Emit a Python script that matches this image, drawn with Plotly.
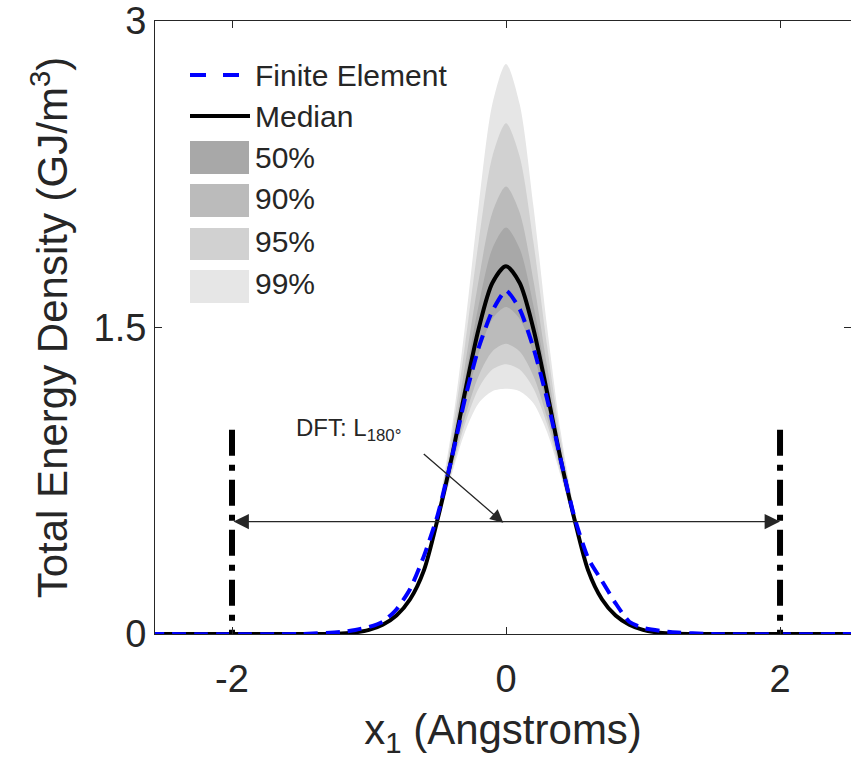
import plotly.graph_objects as go

# ---------------- data ----------------
median_x = [-2.6, -1.4, -1.2, -1.1, -1.0, -0.9, -0.8, -0.7, -0.6, -0.5, -0.4, -0.3, -0.2, -0.1, 0.0,
            0.1, 0.2, 0.3, 0.4, 0.5, 0.6, 0.7, 0.8, 0.9, 1.0, 1.1, 1.2, 1.4, 2.6]
median_y = [0.0, 0.0, 0.003, 0.008, 0.02, 0.045, 0.09, 0.17, 0.31, 0.56, 0.852, 1.182, 1.493, 1.718, 1.80,
            1.718, 1.493, 1.182, 0.852, 0.56, 0.31, 0.17, 0.09, 0.045, 0.02, 0.008, 0.003, 0.0, 0.0]

fe_x = [-2.6, -1.5, -1.2, -1.1, -1.0, -0.9, -0.8, -0.7, -0.6, -0.5, -0.4, -0.3, -0.2, -0.1, 0.0,
        0.1, 0.2, 0.3, 0.4, 0.5, 0.6, 0.7, 0.8, 0.9, 1.0, 1.2, 1.5, 2.6]
fe_y = [0.0, 0.0, 0.01, 0.02, 0.035, 0.06, 0.12, 0.22, 0.38, 0.58, 0.85, 1.15, 1.40, 1.58, 1.68,
        1.59, 1.40, 1.15, 0.85, 0.57, 0.37, 0.26, 0.15, 0.06, 0.03, 0.01, 0.0, 0.0]

band_x = [-0.8, -0.7, -0.6, -0.5, -0.4, -0.3, -0.2, -0.1, 0.0, 0.1, 0.2, 0.3, 0.4, 0.5, 0.6, 0.7, 0.8]
upper_99 = [0.09, 0.172, 0.321, 0.603, 0.986, 1.503, 2.093, 2.592, 2.79, 2.592, 2.093, 1.503, 0.986, 0.603, 0.321, 0.172, 0.09]
lower_99 = [0.09, 0.169, 0.303, 0.534, 0.771, 0.987, 1.129, 1.188, 1.20, 1.188, 1.129, 0.987, 0.771, 0.534, 0.303, 0.169, 0.09]
upper_95 = [0.09, 0.172, 0.318, 0.591, 0.947, 1.409, 1.918, 2.336, 2.50, 2.336, 1.918, 1.409, 0.947, 0.591, 0.318, 0.172, 0.09]
lower_95 = [0.09, 0.169, 0.305, 0.539, 0.787, 1.026, 1.202, 1.294, 1.32, 1.294, 1.202, 1.026, 0.787, 0.539, 0.305, 0.169, 0.09]
upper_90 = [0.09, 0.171, 0.314, 0.577, 0.905, 1.309, 1.730, 2.062, 2.19, 2.062, 1.730, 1.309, 0.905, 0.577, 0.314, 0.171, 0.09]
lower_90 = [0.09, 0.169, 0.306, 0.543, 0.801, 1.059, 1.263, 1.383, 1.42, 1.383, 1.263, 1.059, 0.801, 0.543, 0.306, 0.169, 0.09]
upper_50 = [0.09, 0.170, 0.312, 0.568, 0.878, 1.244, 1.608, 1.886, 1.99, 1.886, 1.608, 1.244, 0.878, 0.568, 0.312, 0.170, 0.09]
lower_50 = [0.09, 0.170, 0.308, 0.551, 0.825, 1.117, 1.372, 1.542, 1.60, 1.542, 1.372, 1.117, 0.825, 0.551, 0.308, 0.170, 0.09]

band_labels = ["99%", "95%", "90%", "50%"]
band_colors = ["#e6e6e6", "#d1d1d1", "#bbbbbb", "#a8a8a8"]

dft_x = [-2.0, 2.0]          # DFT L180 width markers
dft_height = 1.0
arrow_y = 0.55

x_tickvals = [-2, 0, 2]
x_ticktext = ["-2", "0", "2"]
y_tickvals = [0, 1.5, 3]
y_ticktext = ["0", "1.5", "3"]

legend_labels = ["Finite Element", "Median", "50%", "90%", "95%", "99%"]

# ---------------- figure ----------------
FONT = "Liberation Sans, Arial, Helvetica, sans-serif"
TXT = "#262626"
fig = go.Figure()

bands = [(upper_99, lower_99), (upper_95, lower_95), (upper_90, lower_90), (upper_50, lower_50)]
for (up, lo), lab, col in zip(bands, band_labels, band_colors):
    fig.add_trace(go.Scatter(
        x=band_x + band_x[::-1], y=up + lo[::-1],
        fill="toself", fillcolor=col, mode="lines",
        line=dict(width=0, color=col, shape="spline", smoothing=0.8),
        name=lab, showlegend=False, hoverinfo="skip"))

fig.add_trace(go.Scatter(x=median_x, y=median_y, mode="lines",
                         line=dict(color="black", width=4, shape="spline", smoothing=0.8),
                         name="Median", showlegend=False))
fig.add_trace(go.Scatter(x=fe_x, y=fe_y, mode="lines",
                         line=dict(color="#0000ff", width=4, dash="14px,8px", shape="spline", smoothing=0.6),
                         name="Finite Element", showlegend=False))

for xv in dft_x:
    fig.add_trace(go.Scatter(x=[xv, xv], y=[dft_height, 0], mode="lines",
                             line=dict(color="black", width=6, dash="26px,9px,6px,9px"),
                             showlegend=False, hoverinfo="skip"))

annotations = []
# double headed horizontal arrow
annotations.append(dict(x=dft_x[1], y=arrow_y, ax=dft_x[0], ay=arrow_y, xref="x", yref="y",
                        axref="x", ayref="y", text="", showarrow=True, arrowhead=2, startarrowhead=2,
                        arrowside="end+start", arrowsize=2.2, startarrowsize=2.2, arrowwidth=1.4,
                        arrowcolor=TXT, standoff=0, startstandoff=0))
# pointer arrow from label
annotations.append(dict(x=-0.02, y=arrow_y - 0.005, ax=-81, ay=-70, xref="x", yref="y",
                        text="", showarrow=True, arrowhead=2, arrowsize=2.0, arrowwidth=1.3,
                        arrowcolor=TXT, standoff=0))
annotations.append(dict(x=-1.55, y=1.0, xref="x", yref="y", xanchor="left", yanchor="middle",
                        text="DFT: L<sub>180°</sub>", showarrow=False,
                        font=dict(family=FONT, size=24, color=TXT)))

# manual legend (pixel positions converted to paper coords)
L, R, T, B = 155, 851, 21, 634
def px(xp):
    return (xp - L) / (R - L)
def py(yp):
    return (B - yp) / (B - T)

shapes = []
shapes.append(dict(type="line", xref="paper", yref="paper", x0=px(190), x1=px(239), y0=py(75), y1=py(75),
                   line=dict(color="#0000ff", width=4, dash="16px,17px")))
shapes.append(dict(type="line", xref="paper", yref="paper", x0=px(190), x1=px(250), y0=py(116), y1=py(116),
                   line=dict(color="black", width=4)))
patch_rows = [(141, 174), (184, 217), (228, 260), (270, 303)]
patch_cols = [band_colors[3], band_colors[2], band_colors[1], band_colors[0]]
for (y0, y1), col in zip(patch_rows, patch_cols):
    shapes.append(dict(type="rect", xref="paper", yref="paper", x0=px(190), x1=px(249),
                       y0=py(y1), y1=py(y0), fillcolor=col, line=dict(width=0)))
text_rows = [75, 117, 157, 199, 241, 283]
for lab, yc in zip(legend_labels, text_rows):
    annotations.append(dict(x=px(253), y=py(yc), xref="paper", yref="paper", xanchor="left",
                            yanchor="middle", text=lab, showarrow=False,
                            font=dict(family=FONT, size=30, color=TXT)))

fig.update_layout(
    width=851, height=765,
    margin=dict(l=155, r=0, t=21, b=131),
    paper_bgcolor="white", plot_bgcolor="white",
    font=dict(family=FONT, color=TXT),
    showlegend=False,
    annotations=annotations, shapes=shapes,
    xaxis=dict(range=[-2.562, 2.518], tickvals=x_tickvals, ticktext=x_ticktext,
               ticks="inside", ticklen=7, tickcolor=TXT, showline=True, linecolor=TXT, linewidth=1,
               mirror="ticks", showgrid=False, zeroline=False, ticklabelstandoff=11,
               tickfont=dict(family=FONT, size=38, color=TXT),
               title=dict(text="x<sub>1</sub> (Angstroms)", font=dict(family=FONT, size=42, color=TXT),
                          standoff=16)),
    yaxis=dict(range=[0, 3], tickvals=y_tickvals, ticktext=y_ticktext,
               ticks="inside", ticklen=7, tickcolor=TXT, showline=True, linecolor=TXT, linewidth=1,
               mirror="ticks", showgrid=False, zeroline=False,
               tickfont=dict(family=FONT, size=38, color=TXT),
               title=dict(text="Total Energy Density (GJ/m<sup>3</sup>)",
                          font=dict(family=FONT, size=42, color=TXT), standoff=12)),
)

fig.write_html("out.html")
